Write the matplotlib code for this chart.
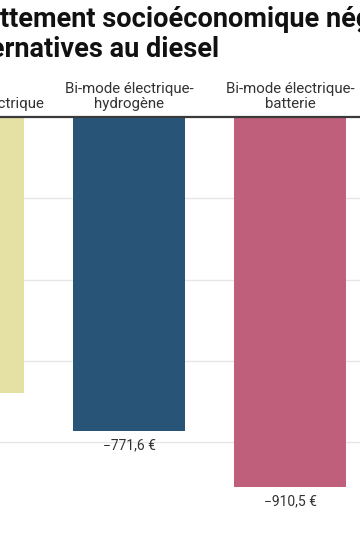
import matplotlib
matplotlib.use("Agg")
import matplotlib.pyplot as plt

# ---- data ----
categories = ["Automotrice électrique", "Bi-mode électrique-\nhydrogène", "Bi-mode électrique-\nbatterie"]
values = [-678.0, -771.6, -910.5]
value_labels = ["−678,0 €", "−771,6 €", "−910,5 €"]
colors = ["#E5E0A3", "#285577", "#C05F7C"]
yticks = [-200, -400, -600, -800]
title_lines = ["Abattement socioéconomique négatif des", "alternatives au diesel"]

plt.rcParams['font.family'] = ['Roboto', 'DejaVu Sans']

W, H = 360, 540
fig = plt.figure(figsize=(W / 100, H / 100), dpi=100)

px = 161.0      # pixels per category step
x0 = -32.0      # pixel centre of first category
ax_left_px, ax_right_px = -140, 500
ax_top_px, ax_bot_px = 117, 510
scale = 0.4067  # pixels per euro

ax = fig.add_axes([ax_left_px / W, 1 - ax_bot_px / H,
                   (ax_right_px - ax_left_px) / W, (ax_bot_px - ax_top_px) / H])
ax.set_xlim((ax_left_px - x0) / px, (ax_right_px - x0) / px)
ax.set_ylim(-(ax_bot_px - ax_top_px) / scale, 0)

xs = list(range(len(categories)))
ax.bar(xs, values, width=112 / px, color=colors, zorder=2)
ax.axhline(0, color="#3a3a3a", lw=1.6, zorder=3, clip_on=False)

ax.set_yticks(yticks)
ax.yaxis.grid(True, color="#e6e6e6", lw=1)
ax.set_axisbelow(True)
ax.tick_params(left=False, bottom=False, labelleft=False, labelbottom=False)
ax.set_xticks([])
for s in ax.spines.values():
    s.set_visible(False)

for i, (cat, v, lbl) in enumerate(zip(categories, values, value_labels)):
    ax.annotate(cat, (i, 0), xytext=(0, 6), textcoords="offset pixels",
                ha="center", va="bottom", fontsize=10.8, color="#333333",
                linespacing=1.12, multialignment="center", annotation_clip=False)
    ax.annotate(lbl, (i, v), xytext=(0, -7), textcoords="offset pixels",
                ha="center", va="top", fontsize=10, color="#333333",
                annotation_clip=False)

fig.text(-48 / W, 1 - 27 / H, title_lines[0], fontsize=19.5, fontweight="bold",
         color="#111111", ha="left", va="baseline")
fig.text(-41 / W, 1 - 57 / H, title_lines[1], fontsize=19.5, fontweight="bold",
         color="#111111", ha="left", va="baseline")

fig.savefig("out.png", dpi=100)
